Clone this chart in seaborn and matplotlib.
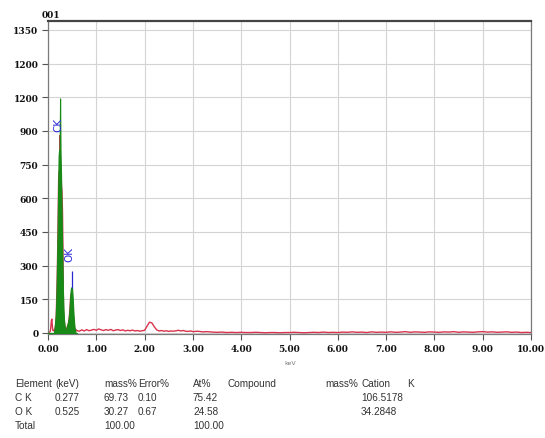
import matplotlib
matplotlib.use("Agg")
import matplotlib.pyplot as plt
import seaborn as sns
import pandas as pd

# ---------------- data ----------------
# low-energy region (peak area), keV
peak_kev = [0.00, 0.01, 0.02, 0.03, 0.04, 0.05, 0.06, 0.07, 0.08, 0.09,
            0.10, 0.11, 0.12, 0.13, 0.14, 0.15, 0.16, 0.17, 0.18, 0.19,
            0.20, 0.21, 0.22, 0.23, 0.24, 0.25, 0.26, 0.27, 0.28, 0.29,
            0.30, 0.31, 0.32, 0.33, 0.34, 0.35, 0.36, 0.37, 0.38, 0.39,
            0.40, 0.41, 0.42, 0.43, 0.44, 0.45, 0.46, 0.47, 0.48, 0.49,
            0.50, 0.51, 0.52, 0.53, 0.54, 0.55, 0.56, 0.57, 0.58, 0.59,
            0.60]
# measured spectrum counts (red)
peak_spec = [0, 0, 2, 3, 5, 10, 30, 55, 62, 30,
             12, 10, 12, 10, 15, 25, 40, 70, 150, 240,
             360, 520, 680, 720, 720, 880, 740, 705, 650, 630,
             540, 360, 110, 65, 45, 25, 15, 12, 15, 22,
             28, 32, 40, 52, 68, 95, 130, 165, 175, 175,
             170, 140, 100, 62, 38, 22, 15, 12, 10, 14,
             10]
# fitted element peaks (green)
peak_fit = [0, 0, 0, 0, 0, 0, 0, 0, 0, 0,
            0, 0, 0, 10, 30, 55, 80, 130, 230, 340,
            470, 640, 790, 815, 805, 1045, 795, 705, 560, 420,
            300, 180, 105, 62, 42, 22, 10, 0, 18, 30,
            38, 44, 55, 70, 90, 120, 160, 195, 200, 205,
            198, 160, 120, 78, 48, 26, 12, 0, 0, 0,
            0]
# background part of the spectrum
bg_kev = [0.65, 0.70, 0.75, 0.80, 0.85, 0.90, 0.95, 1.00, 1.05, 1.10,
          1.15, 1.20, 1.25, 1.30, 1.35, 1.40, 1.45, 1.50, 1.55, 1.60,
          1.65, 1.70, 1.75, 1.80, 1.85, 1.90, 1.95, 2.00, 2.05, 2.10,
          2.15, 2.20, 2.25, 2.30, 2.35, 2.40, 2.45, 2.50, 2.55, 2.60,
          2.65, 2.70, 2.75, 2.80, 2.85, 2.90, 2.95, 3.00,
          3.1, 3.2, 3.3, 3.4, 3.5, 3.6, 3.7, 3.8, 3.9, 4.0,
          4.1, 4.2, 4.3, 4.4, 4.5, 4.6, 4.7, 4.8, 4.9, 5.0,
          5.1, 5.2, 5.3, 5.4, 5.5, 5.6, 5.7, 5.8, 5.9, 6.0,
          6.1, 6.2, 6.3, 6.4, 6.5, 6.6, 6.7, 6.8, 6.9, 7.0,
          7.1, 7.2, 7.3, 7.4, 7.5, 7.6, 7.7, 7.8, 7.9, 8.0,
          8.1, 8.2, 8.3, 8.4, 8.5, 8.6, 8.7, 8.8, 8.9, 9.0,
          9.1, 9.2, 9.3, 9.4, 9.5, 9.6, 9.7, 9.8, 9.9, 10.0]
bg_counts = [8, 14, 9, 15, 10, 13, 16, 12, 18, 14,
             11, 15, 12, 16, 10, 13, 15, 11, 14, 9,
             12, 10, 13, 9, 11, 8, 10, 12, 30, 48,
             45, 28, 14, 9, 11, 8, 10, 7, 9, 8,
             10, 12, 9, 11, 8, 7, 9, 6,
             8, 5, 6, 4, 3, 4, 2, 3, 2, 3,
             2, 2, 3, 2, 1, 2, 2, 1, 2, 2,
             3, 2, 1, 2, 3, 2, 4, 2, 3, 2,
             4, 3, 5, 3, 4, 2, 5, 3, 4, 3,
             5, 3, 4, 6, 3, 5, 4, 3, 5, 4,
             3, 5, 4, 6, 3, 5, 4, 3, 5, 6,
             4, 5, 3, 4, 5, 3, 4, 2, 3, 2]
# O K marker line (blue)
marker_kev = [0.50]
marker_top = [278]
marker_base = [200]
# element labels on the spectrum
label_text = ["C K", "O K"]
label_kev = [0.22, 0.45]
label_counts = [930, 355]

y_ticks = [0, 150, 300, 450, 600, 750, 900, 1050, 1200, 1350]
y_tick_labels = ["0", "150", "300", "450", "600", "750", "900", "1200", "1200", "1350"]
x_ticks = [0, 1, 2, 3, 4, 5, 6, 7, 8, 9, 10]
x_tick_labels = ["0.00", "1.00", "2.00", "3.00", "4.00", "5.00", "6.00",
                 "7.00", "8.00", "9.00", "10.00"]

table_header = ["Element", "(keV)", "mass%", "Error%", "At%", "Compound", "mass%", "Cation", "K"]
table_rows = [
    ["C K", "0.277", "69.73", "0.10", "75.42", "", "", "106.5178", ""],
    ["O K", "0.525", "30.27", "0.67", "24.58", "", "", "34.2848", ""],
    ["Total", "", "100.00", "", "100.00", "", "", "", ""],
]

# ---------------- plot ----------------
sns.set_theme(style="white")
plt.rcParams['font.family'] = ['DejaVu Sans']

fig = plt.figure(figsize=(5.45, 4.39), dpi=100)
ax = fig.add_axes([48 / 545, 1 - 335 / 439, 483 / 545, 313 / 439])

spec = pd.DataFrame({"keV": peak_kev + bg_kev, "counts": peak_spec + bg_counts})
fit = pd.DataFrame({"keV": peak_kev, "counts": peak_fit})

sns.lineplot(data=spec, x="keV", y="counts", ax=ax, color="#d9334d",
             linewidth=1.0, zorder=2)
ax.fill_between(fit["keV"], 0, fit["counts"], color="#178a17", linewidth=0.8,
                edgecolor="#178a17", zorder=3)
ax.vlines(marker_kev, marker_base, marker_top, color="#2828d0", linewidth=0.9, zorder=4)
for t, xk, yc in zip(label_text, label_kev, label_counts):
    ax.text(xk, yc, t.replace(" ", ""), rotation=90, color="#2a2ad8",
            fontsize=7.5, ha="center", va="center", zorder=5)

ax.set_xlim(0, 10)
ax.set_ylim(-4.5, 1390)
ax.set_xticks(x_ticks)
ax.set_xticklabels(x_tick_labels)
ax.set_yticks(y_ticks)
ax.set_yticklabels(y_tick_labels)
for lab in ax.get_xticklabels() + ax.get_yticklabels():
    lab.set_fontfamily("DejaVu Serif")
    lab.set_fontweight("bold")
    lab.set_fontsize(6.5)
    lab.set_color("#111111")
ax.tick_params(axis="both", length=4, width=0.8, color="#555555", pad=3,
               left=True, bottom=True)
ax.grid(True, color="#d4d4d4", linewidth=0.8)
ax.set_axisbelow(True)
for side in ["left", "bottom", "right"]:
    ax.spines[side].set_color("#7a7a7a")
    ax.spines[side].set_linewidth(0.9)
ax.spines["top"].set_color("#444444")
ax.spines["top"].set_linewidth(1.6)
ax.set_xlabel("")
ax.set_ylabel("")

fig.text(42 / 545, 1 - 16 / 439, "001", fontsize=6.5, fontweight="bold",
         family="DejaVu Serif", ha="left", va="center", color="#111111")
fig.text(290 / 545, 1 - 364 / 439, "keV", fontsize=4.5, color="#777777",
         ha="center", va="center")

col_x = [15, 55, 104, 138, 193, 228, 325, 361, 407]
row_y = [384, 398, 412, 426]
tfam = ["Liberation Sans", "DejaVu Sans"]
for cx, txt in zip(col_x, table_header):
    fig.text(cx / 545, 1 - row_y[0] / 439, txt, fontsize=7.2, family=tfam,
             color="#333333", ha="left", va="center")
for ry, row in zip(row_y[1:], table_rows):
    for cx, txt in zip(col_x, row):
        if txt:
            fig.text(cx / 545, 1 - ry / 439, txt, fontsize=7.2, family=tfam,
                     color="#333333", ha="left", va="center")

fig.savefig("out.png", dpi=100)
